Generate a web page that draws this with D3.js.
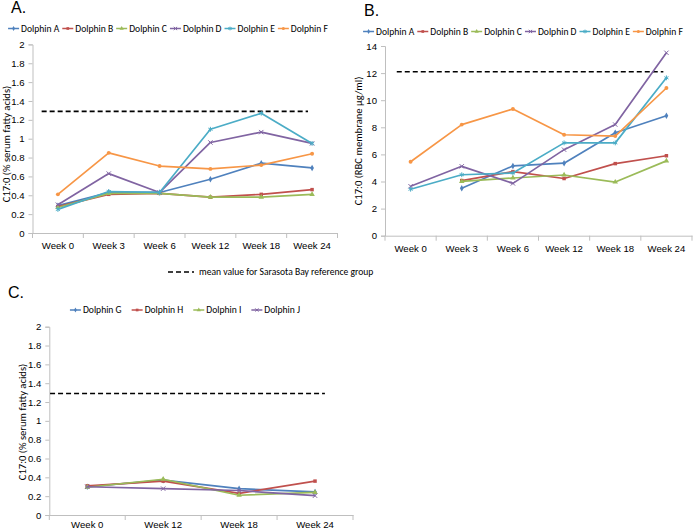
<!DOCTYPE html>
<html><head><meta charset="utf-8">
<script src="https://cdn.jsdelivr.net/npm/d3@7/dist/d3.min.js"></script>
<style>
body{margin:0;background:#fff;}
svg{display:block;font-family:Carlito,Lato,"Open Sans",sans-serif;}
</style></head>
<body>
<svg id="chart" width="694" height="531"></svg>
<script>
// ---------- DATA ----------
const weeksAB = ["Week 0","Week 3","Week 6","Week 12","Week 18","Week 24"];
const weeksC = ["Week 0","Week 12","Week 18","Week 24"];
const dolphinsAB = ["Dolphin A","Dolphin B","Dolphin C","Dolphin D","Dolphin E","Dolphin F"];
const dolphinsC = ["Dolphin G","Dolphin H","Dolphin I","Dolphin J"];

// Panel A: C17:0 (% serum fatty acids)
const serumA = [0.29,0.43,0.43,0.57,0.74,0.69];
const serumB = [0.28,0.41,0.42,0.38,0.41,0.46];
const serumC = [0.27,0.42,0.42,0.38,0.38,0.41];
const serumD = [0.30,0.63,0.43,0.96,1.07,0.95];
const serumE = [0.25,0.44,0.43,1.10,1.27,0.95];
const serumF = [0.41,0.85,0.71,0.68,0.72,0.84];

// Panel B: C17:0 (RBC membrane µg/ml)
const rbcA = [null,3.5,5.15,5.35,7.6,8.85];
const rbcB = [null,4.07,4.73,4.22,5.32,5.9];
const rbcC = [null,4.01,4.26,4.48,3.96,5.52];
const rbcD = [3.65,5.12,3.86,6.35,8.2,13.5];
const rbcE = [3.43,4.5,4.63,6.85,6.85,11.65];
const rbcF = [5.46,8.2,9.35,7.45,7.35,10.9];

// Panel C: C17:0 (% serum fatty acids)
const serumG = [0.30,0.37,0.28,0.245];
const serumH = [0.31,0.36,0.23,0.36];
const serumI = [0.295,0.38,0.21,0.24];
const serumJ = [0.30,0.28,0.26,0.205];

const refSerum = 1.29;
const refRBC = 12.1;

const ticksSerum = [0,0.2,0.4,0.6,0.8,1,1.2,1.4,1.6,1.8,2];
const ticksRBC = [0,2,4,6,8,10,12,14];

const colors = ["#4F81BD","#C0504D","#9BBB59","#8064A2","#4BACC6","#F79646"];
const symbols = ["diamond","square","triangle","times","asterisk","circle"];

// ---------- DRAW ----------
const svg = d3.select("#chart");
const FONT = 9.6;

function marker(g, type, color, x, y, k){
  let sym, size, fill=color, stroke="none", sw=0;
  switch(type){
    case "diamond": sym=d3.symbolDiamond; size=12; break;
    case "square": sym=d3.symbolSquare; size=12; break;
    case "triangle": sym=d3.symbolTriangle; size=13; break;
    case "circle": sym=d3.symbolCircle; size=12; break;
    case "times": sym=d3.symbolTimes; size=14; fill="none"; stroke=color; sw=1; break;
    case "asterisk": sym=d3.symbolAsterisk; size=16; fill="none"; stroke=color; sw=1; break;
  }
  g.append("path").attr("d", d3.symbol(sym, size*k)())
    .attr("transform",`translate(${x},${y})`)
    .attr("fill",fill).attr("stroke",stroke).attr("stroke-width",sw);
}

function panel(cfg){
  const g = svg.append("g");
  const x = d3.scaleBand().domain(cfg.cats).range([cfg.x0, cfg.x1]);
  const y = d3.scaleLinear().domain([0, d3.max(cfg.yticks)]).range([cfg.y0, cfg.y1]);
  const cx = c => x(c) + x.bandwidth()/2;

  // panel letter
  g.append("text").attr("x",cfg.letterX).attr("y",cfg.letterY)
    .attr("font-size",16).attr("font-family","Liberation Sans, Arial, sans-serif").attr("fill","#000").text(cfg.letter);

  // y axis
  const ya = g.append("g").attr("transform",`translate(${cfg.x0},0)`)
    .call(d3.axisLeft(y).tickValues(cfg.yticks).tickSize(4).tickPadding(4).tickFormat(d3.format("~g")));
  ya.select(".domain").attr("stroke","#bfbfbf");
  ya.selectAll(".tick line").attr("stroke","#bfbfbf");
  ya.selectAll("text").attr("font-size",FONT).attr("fill","#000").attr("font-family",null);

  // x axis with tick marks at category boundaries
  const xa = g.append("g").attr("transform",`translate(0,${cfg.y0})`)
    .call(d3.axisBottom(x).tickSize(0).tickPadding(cfg.xpad));
  xa.select(".domain").attr("stroke","#bfbfbf");
  xa.selectAll("text").attr("font-size",FONT).attr("fill","#000").attr("font-family",null);
  const bounds = cfg.cats.map(c => x(c)).concat([cfg.x1]);
  xa.selectAll(".btick").data(bounds).join("line").attr("class","btick")
    .attr("x1",d=>d).attr("x2",d=>d).attr("y1",0).attr("y2",5).attr("stroke","#bfbfbf");

  // y title
  g.append("text").attr("transform",`translate(${cfg.titleX},${cfg.titleY}) rotate(-90)`)
    .attr("text-anchor","middle").attr("font-size",10.6).attr("fill","#000").text(cfg.ytitle);

  // reference dashed line
  g.append("line")
    .attr("x1", cfg.x0 + cfg.refStart*x.bandwidth())
    .attr("x2", cx(cfg.cats[cfg.cats.length-1]) + cfg.refEnd*x.bandwidth())
    .attr("y1", y(cfg.ref)).attr("y2", y(cfg.ref))
    .attr("stroke","#000").attr("stroke-width",1.6).attr("stroke-dasharray","5,3");

  // series
  const line = d3.line().defined(d => d.v !== null).x(d => cx(d.c)).y(d => y(d.v));
  cfg.series.forEach((s,i) => {
    const pts = cfg.cats.map((c,j) => ({c, v:s[j]}));
    g.append("path").datum(pts).attr("d", line).attr("fill","none")
      .attr("stroke",colors[i]).attr("stroke-width",1.7).attr("stroke-linejoin","round");
    pts.filter(p => p.v !== null).forEach(p => marker(g, symbols[i], colors[i], cx(p.c), y(p.v), 1));
  });

  // legend
  const lg = g.append("g");
  let pos = 0;
  cfg.names.forEach((n,i) => {
    const it = lg.append("g");
    it.append("line").attr("x1",0).attr("x2",11).attr("y1",0).attr("y2",0)
      .attr("stroke",colors[i]).attr("stroke-width",1.5);
    marker(it, symbols[i], colors[i], 5.5, 0, 0.6);
    const t = it.append("text").attr("x",13).attr("y",3.3).attr("font-size",FONT).attr("fill","#000").text(n);
    const w = 13 + t.node().getComputedTextLength();
    it.attr("transform",`translate(${pos},0)`);
    pos += w + cfg.legendGap;
  });
  const total = pos - cfg.legendGap;
  lg.attr("transform",`translate(${cfg.legendCX - total/2},${cfg.legendY})`);
}

panel({letter:"A.", letterX:11, letterY:13, cats:weeksAB, x0:32.5, x1:337.5, y0:233, y1:44.4, xpad:9,
  yticks:ticksSerum, ytitle:"C17:0 (% serum fatty acids)", titleX:10, titleY:144,
  ref:refSerum, refStart:0.18, refEnd:-0.08,
  series:[serumA,serumB,serumC,serumD,serumE,serumF], names:dolphinsAB,
  legendCX:168, legendY:28.5, legendGap:3});

panel({letter:"B.", letterX:364, letterY:16, cats:weeksAB, x0:385, x1:692, y0:235.7, y1:46, xpad:9,
  yticks:ticksRBC, ytitle:"C17:0 (RBC membrane µg/ml)", titleX:362, titleY:141,
  ref:refRBC, refStart:0.23, refEnd:-0.06,
  series:[rbcA,rbcB,rbcC,rbcD,rbcE,rbcF], names:dolphinsAB,
  legendCX:523, legendY:31.5, legendGap:3});

panel({letter:"C.", letterX:8, letterY:298, cats:weeksC, x0:49.3, x1:353, y0:515, y1:326.7, xpad:6,
  yticks:ticksSerum, ytitle:"C17:0 (% serum fatty acids)", titleX:26, titleY:422,
  ref:refSerum, refStart:0.01, refEnd:0.13,
  series:[serumG,serumH,serumI,serumJ], names:dolphinsC,
  legendCX:185, legendY:310, legendGap:10});

// footnote legend for dashed reference line
const fn = svg.append("g").attr("transform","translate(168,272)");
fn.append("line").attr("x1",0).attr("x2",26).attr("y1",0).attr("y2",0)
  .attr("stroke","#000").attr("stroke-width",1.6).attr("stroke-dasharray","5,3");
fn.append("text").attr("x",31).attr("y",3.3).attr("font-size",FONT).attr("fill","#000")
  .text("mean value for Sarasota Bay reference group");
</script>
</body></html>
